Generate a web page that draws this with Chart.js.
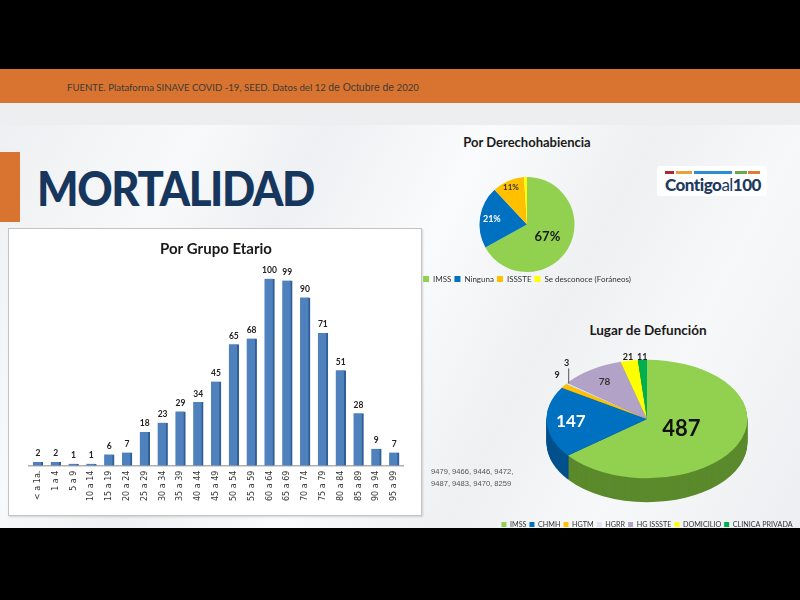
<!DOCTYPE html>
<html>
<head>
<meta charset="utf-8">
<script src="https://cdn.jsdelivr.net/npm/chart.js@4.4.0/dist/chart.umd.min.js"></script>
<style>
  body { margin: 0; width: 800px; height: 600px; background: #000; overflow: hidden; position: relative; font-family: Lato, "Open Sans", sans-serif; }
  .abs { position: absolute; }
  #slide { left: 0; top: 69px; width: 800px; height: 459px;
    background: linear-gradient(118deg, #eceef1 0%, #f8f9fa 22%, #eef0f3 34%, #fafbfc 50%, #eef0f2 66%, #f7f8f9 80%, #eceef1 100%); }
  #band { left: 0; top: 69px; width: 800px; height: 34px; background: #d8742f; }
  #band2 { left: 0; top: 103px; width: 800px; height: 22px; background: #eceef0; }
  #source { left: 67px; top: 82px; font-size: 9.6px; color: #3f3a36; white-space: nowrap; }
  #source span { font-family: "Liberation Sans", Arial, sans-serif; font-size: 10.4px; }
  #tab { left: 0; top: 152px; width: 20px; height: 70px; background: #d8742f; }
  #title { left: 37px; top: 160px; font-size: 47px; font-weight: 900; color: #17365d; letter-spacing: -1.5px; white-space: nowrap; transform: scaleX(0.93); transform-origin: left top; }
  #panel { left: 8px; top: 228px; width: 412px; height: 286px; background: #fff; border: 1.5px solid #c4c4c4; box-shadow: 1px 1px 2px rgba(0,0,0,0.15); }
  #barWrap { left: 0; top: 0; width: 412px; height: 286px; }
  .ptitle { font-weight: bold; color: #1a1a1a; text-align: center; white-space: nowrap; }
  #pie1Wrap { left: 407px; top: 176px; width: 240px; height: 117px; }
  #pie2Wrap { left: 482px; top: 300px; width: 330px; height: 238px; }
  #folios { left: 431px; top: 466px; font-family: "Liberation Sans", Arial, sans-serif; font-size: 7.6px; line-height: 12px; color: #555; }
  #logo { left: 657px; top: 166px; width: 110px; height: 30px; background: #fff; border-radius: 3px; }
  .dash { position: absolute; top: 5px; height: 2.5px; }
  #logoText { position: absolute; left: 8px; top: 8px; font-size: 17px; font-weight: 900; color: #1e3a5f; white-space: nowrap; letter-spacing: -0.5px; }
  #logoText .al { font-weight: 400; }
  #bottomBar { left: 0; top: 528px; width: 800px; height: 72px; background: #000; }
</style>
</head>
<body>
<div id="slide" class="abs"></div>
<div id="band" class="abs"></div>
<div id="band2" class="abs"></div>
<div id="source" class="abs">FUENTE. Plataforma SINAVE COVID -19, SEED. Datos del 12 <span>de Octubre de</span> 2020</div>
<div id="tab" class="abs"></div>
<div id="title" class="abs">MORTALIDAD</div>

<div id="logo" class="abs">
  <div class="dash" style="left:8px;width:9px;background:#b3262f"></div>
  <div class="dash" style="left:19px;width:16px;background:#e7a23b"></div>
  <div class="dash" style="left:37px;width:38px;background:#2b8fcf"></div>
  <div class="dash" style="left:78px;width:12px;background:#6aa84f"></div>
  <div class="dash" style="left:91px;width:12px;background:#e07b39"></div>
  <div id="logoText">Contigo<span class="al">al</span>100</div>
</div>

<div id="panel" class="abs">
  <div id="barWrap" class="abs"><canvas id="barChart"></canvas></div>
</div>

<div class="abs ptitle" style="left:427px;top:134px;width:200px;font-size:13px;">Por Derechohabiencia</div>
<div id="pie1Wrap" class="abs"><canvas id="pie1"></canvas></div>

<div class="abs ptitle" style="left:548px;top:322px;width:200px;font-size:13.5px;">Lugar de Defunción</div>
<div id="pie2Wrap" class="abs"><canvas id="pie2"></canvas></div>

<div id="folios" class="abs"></div>
<div id="bottomBar" class="abs"></div>

<script>
// ---- data ----
const ageGroups = ['< a 1a.', '1 a 4', '5 a 9', '10 a 14', '15 a 19', '20 a 24', '25 a 29',
  '30 a 34', '35 a 39', '40 a 44', '45 a 49', '50 a 54', '55 a 59', '60 a 64',
  '65 a 69', '70 a 74', '75 a 79', '80 a 84', '85 a 89', '90 a 94', '95 a 99'];
const deathsByAge = [2, 2, 1, 1, 6, 7, 18, 23, 29, 34, 45, 65, 68, 100, 99, 90, 71, 51, 28, 9, 7];

const coverageLabels = ['IMSS', 'Ninguna', 'ISSSTE', 'Se desconoce (Foráneos)'];
const coveragePct = [67, 21, 11, 1];

const placeLabels = ['IMSS', 'CHMH', 'HGTM', 'HGRR', 'HG ISSSTE', 'DOMICILIO', 'CLINICA PRIVADA'];
const placeDeaths = [487, 147, 9, 3, 78, 21, 11];

const folioLines = ['9479, 9466, 9446, 9472,', '9487, 9483, 9470, 8259'];

document.getElementById('folios').innerHTML = folioLines.join('<br>');

Chart.defaults.font.family = 'Lato, "Open Sans", sans-serif';
Chart.defaults.animation = false;

// ---- bar chart: Por Grupo Etario ----
const barValues = {
  id: 'barValues',
  afterDatasetsDraw(chart) {
    const ctx = chart.ctx;
    const meta = chart.getDatasetMeta(0);
    ctx.save();
    ctx.font = 'bold 8.5px Lato';
    ctx.fillStyle = '#222';
    ctx.textAlign = 'center';
    ctx.textBaseline = 'bottom';
    meta.data.forEach((bar, i) => {
      ctx.fillText(chart.data.datasets[0].data[i], bar.x, bar.y - 4);
    });
    ctx.restore();
  }
};

new Chart(document.getElementById('barChart'), {
  type: 'bar',
  data: {
    labels: ageGroups,
    datasets: [{
      data: deathsByAge,
      backgroundColor: '#4f81bd',
      borderColor: '#2f5e98',
      borderWidth: { top: 0, left: 0, right: 2, bottom: 0 },
      barThickness: 10
    }]
  },
  options: {
    responsive: true,
    maintainAspectRatio: false,
    layout: { padding: { left: 20, right: 18, bottom: 9 } },
    plugins: {
      legend: { display: false },
      tooltip: { enabled: false },
      title: {
        display: true,
        text: 'Por Grupo Etario',
        font: { size: 15, weight: 'bold' },
        color: '#1a1a1a',
        padding: { top: 11, bottom: 2 }
      }
    },
    scales: {
      x: {
        grid: { display: false, drawTicks: false },
        border: { display: true, color: '#b0b0b0', width: 1.5 },
        ticks: {
          minRotation: 90, maxRotation: 90, padding: 5,
          font: { size: 8, family: '"DejaVu Sans"' }, color: '#333'
        }
      },
      y: { display: false, min: 0, max: 110 }
    }
  },
  plugins: [barValues]
});

// ---- pie 1: Por Derechohabiencia ----
const pie1LabelStyle = [
  { r: 0.5, size: 13, color: '#1a1a1a' },
  { r: 0.75, size: 9, color: '#ffffff' },
  { r: 0.85, size: 8, color: '#333' },
  { r: 1.3, size: 8, color: '#333' }
];
const pie1Labels = {
  id: 'pie1Labels',
  afterDatasetsDraw(chart) {
    const ctx = chart.ctx;
    const meta = chart.getDatasetMeta(0);
    ctx.save();
    ctx.textAlign = 'center';
    ctx.textBaseline = 'middle';
    meta.data.forEach((arc, i) => {
      const s = pie1LabelStyle[i];
      const mid = (arc.startAngle + arc.endAngle) / 2;
      const x = arc.x + Math.cos(mid) * arc.outerRadius * s.r;
      const y = arc.y + Math.sin(mid) * arc.outerRadius * s.r;
      ctx.font = 'bold ' + s.size + 'px Lato';
      ctx.fillStyle = s.color;
      ctx.fillText(coveragePct[i] + '%', x, y);
    });
    ctx.restore();
  }
};

new Chart(document.getElementById('pie1'), {
  type: 'pie',
  data: {
    labels: coverageLabels,
    datasets: [{
      data: coveragePct,
      backgroundColor: ['#92d050', '#0070c0', '#ffc000', '#ffff00'],
      borderWidth: 0
    }]
  },
  options: {
    responsive: true,
    maintainAspectRatio: false,
    layout: { padding: { top: 1 } },
    plugins: {
      tooltip: { enabled: false },
      legend: {
        position: 'bottom',
        labels: { boxWidth: 6, boxHeight: 6, padding: 3, font: { size: 8 }, color: '#333' }
      }
    }
  },
  plugins: [pie1Labels]
});

// ---- pie 2: Lugar de Defunción (tilted 3D look) ----
const tilt = 0.59;
const depth = 24;
const centerY = 119;
const placeColors = ['#92d050', '#0070c0', '#ffc000', '#dde3ef', '#b3a2c7', '#ffff00', '#00b050'];
const placeSides = ['#5b8a2c', '#00508c', '#b38700', '#a4a9b6', '#7f7190', '#b5b500', '#007a3a'];
const pie2LabelStyle = [
  { r: 0.38, size: 22, color: '#111', lift: 0 },
  { r: 0.76, size: 17, color: '#ffffff', lift: 0 },
  { r: 1.08, size: 9, color: '#222', lift: 8 },
  { r: 1.0, size: 9, color: '#222', lift: 20 },
  { r: 0.76, size: 10, color: '#333', lift: 0 },
  { r: 1.06, size: 9, color: '#222', lift: 0 },
  { r: 1.05, size: 9, color: '#222', lift: 0 }
];

const pie3d = {
  id: 'pie3d',
  beforeDatasetsDraw(chart) {
    const ctx = chart.ctx;
    const meta = chart.getDatasetMeta(0);
    const a0 = meta.data[0];
    ctx.save();
    ctx.translate(a0.x, centerY);
    ctx.scale(1, tilt);
    ctx.translate(-a0.x, -a0.y);
    for (let d = depth; d > 0; d--) {
      meta.data.forEach((arc, i) => {
        const oy = arc.y + d / tilt;
        ctx.beginPath();
        ctx.moveTo(arc.x, oy);
        ctx.arc(arc.x, oy, arc.outerRadius, arc.startAngle, arc.endAngle);
        ctx.closePath();
        ctx.fillStyle = placeSides[i];
        ctx.fill();
      });
    }
  },
  afterDatasetsDraw(chart) {
    const ctx = chart.ctx;
    ctx.restore();
    const meta = chart.getDatasetMeta(0);
    ctx.save();
    ctx.textAlign = 'center';
    ctx.textBaseline = 'middle';
    meta.data.forEach((arc, i) => {
      const s = pie2LabelStyle[i];
      const mid = (arc.startAngle + arc.endAngle) / 2;
      const ex = arc.x + Math.cos(mid) * arc.outerRadius * s.r;
      const ey = centerY + Math.sin(mid) * arc.outerRadius * s.r * tilt;
      const ly = ey - s.lift;
      if (s.lift > 12) {
        ctx.strokeStyle = '#555';
        ctx.lineWidth = 1;
        ctx.beginPath();
        ctx.moveTo(ex + 2, ey);
        ctx.lineTo(ex + 2, ly + 5);
        ctx.stroke();
      }
      ctx.font = 'bold ' + s.size + 'px Lato';
      ctx.fillStyle = s.color;
      ctx.fillText(placeDeaths[i], ex, ly);
    });
    ctx.restore();
  }
};

new Chart(document.getElementById('pie2'), {
  type: 'pie',
  data: {
    labels: placeLabels,
    datasets: [{
      data: placeDeaths,
      backgroundColor: placeColors,
      borderWidth: 0,
      clip: false
    }]
  },
  options: {
    responsive: true,
    maintainAspectRatio: false,
    layout: { padding: { top: 17, bottom: 0 } },
    plugins: {
      tooltip: { enabled: false },
      legend: {
        position: 'bottom',
        labels: { boxWidth: 5, boxHeight: 5, padding: 3, font: { size: 7.2 }, color: '#333' }
      }
    }
  },
  plugins: [pie3d]
});
</script>
</body>
</html>
